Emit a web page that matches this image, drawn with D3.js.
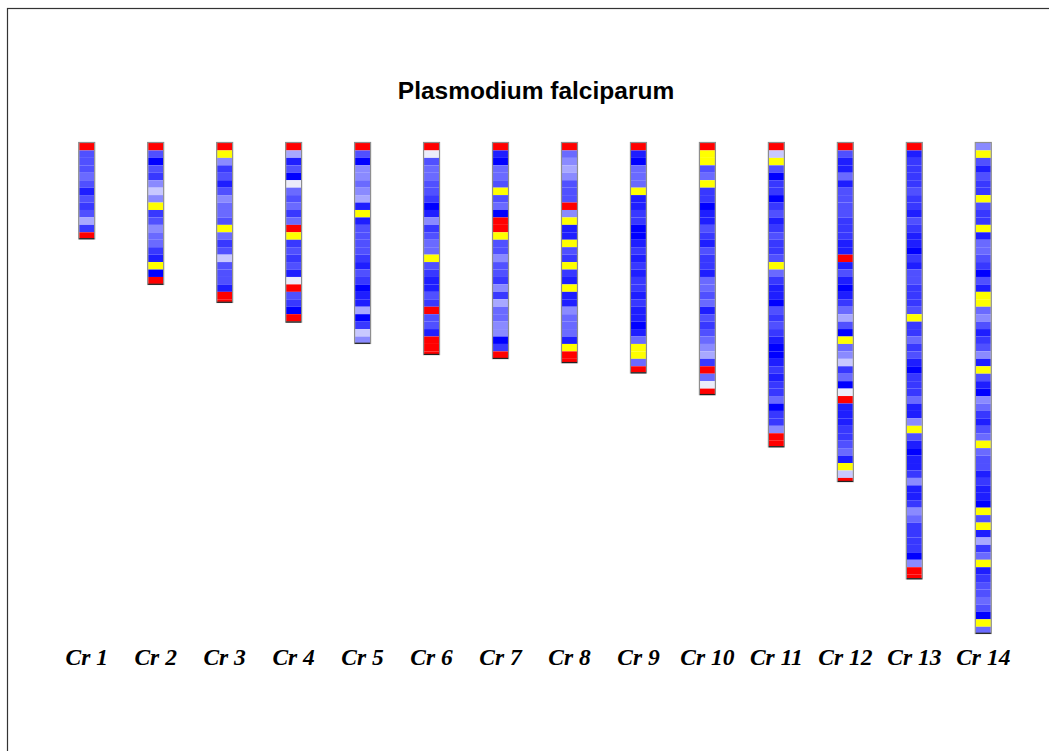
<!DOCTYPE html>
<html>
<head>
<meta charset="utf-8">
<script src="https://cdn.jsdelivr.net/npm/d3@7"></script>
<style>
  html, body { margin: 0; padding: 0; background: #fff; }
  svg { display: block; }
</style>
</head>
<body>
<svg id="chart" width="1049" height="751"></svg>
<script>
// Chromosome names and lengths (Mb)
const chromosomes = ["Cr 1","Cr 2","Cr 3","Cr 4","Cr 5","Cr 6","Cr 7","Cr 8","Cr 9","Cr 10","Cr 11","Cr 12","Cr 13","Cr 14"];
const lengthsMb = [0.640851, 0.947102, 1.067971, 1.200490, 1.343557, 1.418242, 1.445207,
                   1.472805, 1.541735, 1.687656, 2.038340, 2.271494, 2.925236, 3.291936];
const binSizeMb = 0.05;

// Per-bin class along each chromosome (50 kb bins, top to bottom):
// 0..8 = blue intensity from deep to pale, 9 = yellow, 10 = red
const cr1  = [10,3,3,3,4,3,1,3,2,3,6,2,10];
const cr2  = [10,3,0,3,2,5,7,5,9,2,3,5,4,4,2,1,9,0,10];
const cr3  = [10,9,5,2,3,1,3,5,4,4,3,9,4,2,3,7,3,3,3,1,10,10];
const cr4  = [10,6,1,3,0,8,4,3,4,2,4,10,9,2,3,2,3,1,8,10,3,2,0,10,10];
const cr5  = [10,3,0,5,5,4,5,6,1,9,1,3,3,3,3,2,1,3,2,0,1,1,6,0,2,7,5];
const cr6  = [10,8,3,4,4,3,3,2,0,1,5,2,3,4,4,9,3,2,1,1,3,2,10,3,3,1,10,10,10];
const cr7  = [10,1,0,4,4,3,9,3,4,0,10,10,9,3,3,5,3,3,2,5,2,6,4,4,5,5,0,2,10];
const cr8  = [10,4,5,6,5,3,3,3,10,5,9,1,1,9,3,2,9,2,1,9,1,1,5,4,4,4,1,9,10,10];
const cr9  = [10,1,0,4,4,4,9,1,1,2,2,0,0,1,2,1,2,1,2,2,1,2,1,1,0,1,4,9,9,4,10];
const cr10 = [10,9,9,3,4,9,2,2,0,1,1,3,2,1,3,2,2,1,4,4,3,4,1,3,2,3,4,5,6,2,10,4,8,10];
const cr11 = [10,7,9,3,0,2,2,0,2,3,1,2,3,2,2,3,9,4,2,1,1,0,3,2,3,2,1,0,0,1,2,1,2,2,4,0,2,2,5,10,10];
const cr12 = [10,3,1,1,4,1,3,3,3,3,2,2,2,1,1,10,1,3,1,0,1,2,4,6,3,0,9,4,5,7,2,4,0,8,10,1,1,1,2,2,3,4,1,9,7,10];
const cr13 = [10,1,2,2,2,2,3,2,2,1,3,2,1,1,0,2,1,3,3,2,2,2,3,9,2,2,4,2,3,1,0,2,2,2,4,1,1,5,9,3,
              1,0,1,1,2,5,1,1,2,5,4,2,2,2,2,0,5,10,10];
const cr14 = [5,9,3,1,3,2,2,9,3,2,2,9,1,4,4,3,2,0,3,1,9,9,4,5,3,1,2,3,5,1,9,3,1,0,5,4,2,1,3,4,
              9,4,3,3,1,2,1,1,0,9,3,9,1,6,2,4,9,1,2,3,3,4,3,0,9,4];
const binClasses = [cr1,cr2,cr3,cr4,cr5,cr6,cr7,cr8,cr9,cr10,cr11,cr12,cr13,cr14];

const classColors = ["#0000ff","#1e1eff","#3838ff","#5050ff","#6a6aff","#8a8aff","#a8a8ff","#c8c8ff","#ececfa","#ffff00","#ff0000"];

const svg = d3.select("#chart");

// outer frame
svg.append("rect")
  .attr("x", 7.5).attr("y", 8.5)
  .attr("width", 1060).attr("height", 760)
  .attr("fill", "none").attr("stroke", "#333").attr("stroke-width", 1.2);

svg.append("text")
  .attr("x", 536).attr("y", 98.5)
  .attr("text-anchor", "middle")
  .attr("font-family", "'Liberation Sans', Arial, sans-serif")
  .attr("font-weight", "bold")
  .attr("font-size", 24.5)
  .attr("fill", "#000")
  .text("Plasmodium falciparum");

const x = d3.scalePoint().domain(chromosomes).range([86.7, 983.3]);
const y = d3.scaleLinear().domain([0, d3.max(lengthsMb)]).range([143, 633]);
const color = d3.scaleOrdinal().domain(d3.range(classColors.length)).range(classColors);
const barW = 15;

const g = svg.selectAll("g.chrom")
  .data(chromosomes.map((name, i) => ({ name, len: lengthsMb[i], bins: binClasses[i] })))
  .join("g").attr("class", "chrom")
  .attr("transform", d => `translate(${x(d.name) - barW / 2},0)`);

g.selectAll("rect.bin")
  .data(d => {
    const n = Math.ceil(d.len / binSizeMb - 1e-9);
    return d.bins.slice(0, n).map((c, i) => ({
      c, start: i * binSizeMb, end: Math.min((i + 1) * binSizeMb, d.len)
    }));
  })
  .join("rect").attr("class", "bin")
  .attr("x", 0).attr("width", barW)
  .attr("y", d => y(d.start))
  .attr("height", d => y(d.end) - y(d.start))
  .attr("fill", d => color(d.c));

// outline of each chromosome
g.append("rect")
  .attr("x", -0.5).attr("width", barW + 1)
  .attr("y", y(0) - 0.5)
  .attr("height", d => y(d.len) - y(0) + 1)
  .attr("fill", "none").attr("stroke", "#8e8e8e").attr("stroke-width", 1.2);

g.append("line")
  .attr("x1", 0).attr("x2", barW)
  .attr("y1", d => y(d.len) + 0.3).attr("y2", d => y(d.len) + 0.3)
  .attr("stroke", "#222").attr("stroke-width", 1.2);

svg.selectAll("text.label")
  .data(chromosomes)
  .join("text").attr("class", "label")
  .attr("x", d => x(d)).attr("y", 665)
  .attr("text-anchor", "middle")
  .attr("font-family", "'Liberation Serif', 'Times New Roman', serif")
  .attr("font-weight", "bold").attr("font-style", "italic")
  .attr("font-size", 23.5)
  .attr("fill", "#000")
  .text(d => d);
</script>
</body>
</html>
